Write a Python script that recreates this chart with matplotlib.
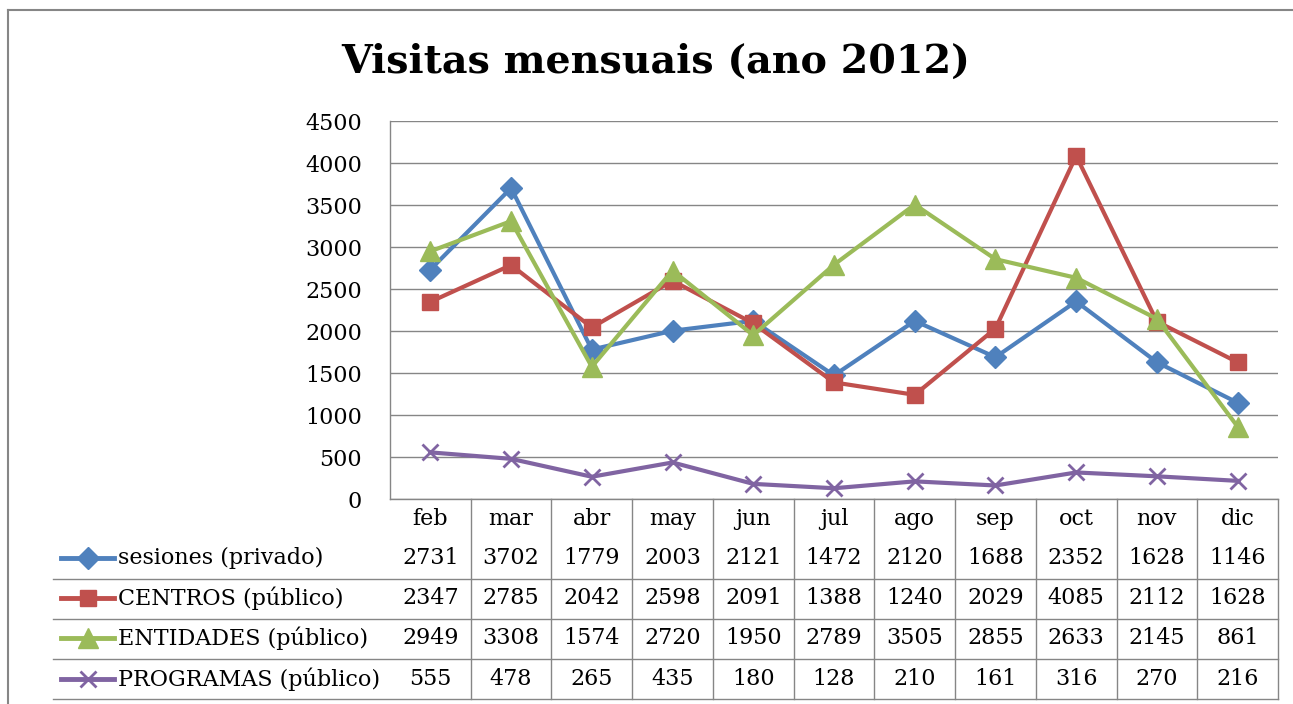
import matplotlib
matplotlib.use("Agg")
import matplotlib.pyplot as plt
from matplotlib.lines import Line2D

months = ["feb", "mar", "abr", "may", "jun", "jul", "ago", "sep", "oct", "nov", "dic"]
sesiones = [2731, 3702, 1779, 2003, 2121, 1472, 2120, 1688, 2352, 1628, 1146]
centros = [2347, 2785, 2042, 2598, 2091, 1388, 1240, 2029, 4085, 2112, 1628]
entidades = [2949, 3308, 1574, 2720, 1950, 2789, 3505, 2855, 2633, 2145, 861]
programas = [555, 478, 265, 435, 180, 128, 210, 161, 316, 270, 216]

labels = ["sesiones (privado)", "CENTROS (público)", "ENTIDADES (público)", "PROGRAMAS (público)"]
series = [sesiones, centros, entidades, programas]
colors = ["#4F81BD", "#C0504D", "#9BBB59", "#8064A2"]
markers = ["D", "s", "^", "x"]
msizes = [11, 12, 14, 12]

W, H = 1293, 704
plt.rcParams["font.family"] = ["DejaVu Serif"]
fig = plt.figure(figsize=(W / 100, H / 100), dpi=100)

def fx(px):
    return px / W

def fy(py):
    return 1 - py / H

# plot area in pixels
L, R, T, B = 390, 1278, 121, 499
ax = fig.add_axes([fx(L), fy(B), fx(R) - fx(L), fy(T) - fy(B)])
grid_c = "#868686"
fs = 16

x = list(range(len(months)))
for vals, c, m, ms in zip(series, colors, markers, msizes):
    ax.plot(x, vals, color=c, lw=3, marker=m, ms=ms, mew=2 if m == "x" else 1,
            mec=c, mfc=c, clip_on=False, zorder=3)

ax.set_xlim(-0.5, len(months) - 0.5)
ax.set_ylim(0, 4500)
ax.set_yticks(range(0, 4501, 500))
ax.yaxis.grid(True, color=grid_c, lw=1)
ax.set_axisbelow(True)
ax.tick_params(axis="y", length=0, labelsize=fs, pad=20)
ax.set_xticks([])
for s in ["top", "right"]:
    ax.spines[s].set_visible(False)
for s in ["left", "bottom"]:
    ax.spines[s].set_color(grid_c)
    ax.spines[s].set_linewidth(1)

# outer chart border: only top and left edges are inside the image
fig.add_artist(Line2D([fx(8), 1.0], [fy(10), fy(10)], color=grid_c, lw=1.5))
fig.add_artist(Line2D([fx(8), fx(8)], [fy(10), 0.0], color=grid_c, lw=1.5))

fig.text(fx(656), fy(62), "Visitas mensuais (ano 2012)", ha="center", va="center",
         fontsize=28.5, fontweight="bold")

# data table
col_w = (R - L) / len(months)
row_y = [558, 598, 638, 679]
for i, mname in enumerate(months):
    cx = L + col_w * (i + 0.5)
    fig.text(fx(cx), fy(519), mname, ha="center", va="center", fontsize=fs)
    for vals, ry in zip(series, row_y):
        fig.text(fx(cx), fy(ry), str(vals[i]), ha="center", va="center", fontsize=fs)
for k in range(1, len(months) + 1):
    xx = L + col_w * k
    fig.add_artist(Line2D([fx(xx), fx(xx)], [fy(B), fy(699)], color=grid_c, lw=1))
for ly in [579, 619, 659, 699]:
    fig.add_artist(Line2D([fx(53), fx(R)], [fy(ly), fy(ly)], color=grid_c, lw=1))

for lab, c, m, ms, ry in zip(labels, colors, markers, msizes, row_y):
    fig.add_artist(Line2D([fx(61), fx(114)], [fy(ry), fy(ry)], color=c, lw=3.5))
    fig.add_artist(Line2D([fx(87.5)], [fy(ry)], color=c, marker=m, ms=ms,
                          mew=2 if m == "x" else 1, mec=c, mfc=c))
    fig.text(fx(118), fy(ry), lab, ha="left", va="center", fontsize=fs)

fig.savefig("out.png", dpi=100)
